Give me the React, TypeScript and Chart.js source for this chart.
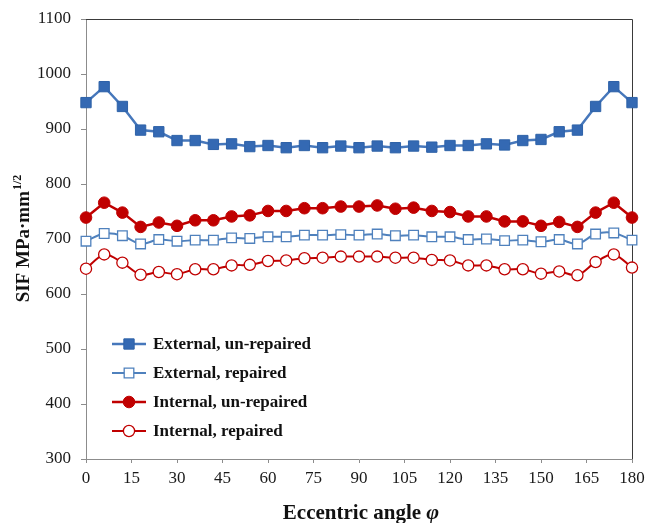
import React, { useEffect, useRef } from "react";
import { Chart, registerables } from "chart.js";

Chart.register(...registerables);

// Eccentric angle (degrees), sampled every 6°
const angles = [
  0, 6, 12, 18, 24, 30, 36, 42, 48, 54, 60, 66, 72, 78, 84, 90,
  96, 102, 108, 114, 120, 126, 132, 138, 144, 150, 156, 162, 168, 174, 180,
];

// SIF values, MPa·mm^1/2
const externalUnrepaired = [
  948, 977, 941, 898, 895, 879, 879, 872, 873, 868, 870, 866, 870, 866, 869, 866,
  869, 866, 869, 867, 870, 870, 873, 871, 879, 881, 895, 898, 941, 977, 948,
];
const externalRepaired = [
  696, 710, 706, 691, 699, 696, 698, 698, 702, 701, 704, 704, 707, 707, 708, 707,
  709, 706, 707, 704, 704, 699, 700, 697, 698, 695, 699, 691, 709, 711, 698,
];
const internalUnrepaired = [
  739, 766, 748, 722, 730, 724, 734, 734, 741, 743, 751, 751, 756, 756, 759, 759,
  761, 755, 757, 751, 749, 741, 741, 732, 732, 724, 731, 722, 748, 766, 739,
];
const internalRepaired = [
  646, 672, 657, 635, 640, 636, 645, 645, 652, 653, 660, 661, 665, 666, 668, 668,
  668, 666, 666, 662, 661, 652, 652, 645, 645, 637, 641, 634, 658, 672, 648,
];

const xTicks = [0, 15, 30, 45, 60, 75, 90, 105, 120, 135, 150, 165, 180];

const seriesLabels = [
  "External, un-repaired",
  "External, repaired",
  "Internal, un-repaired",
  "Internal, repaired",
];

const SERIF = "'Liberation Serif', 'Times New Roman', serif";
const BLUE_LINE = "#4677BB";
const BLUE_FILL = "#3469B3";
const BLUE_OPEN = "#4F81BD";
const RED = "#C00000";

type Style = {
  line: string;
  width: number;
  shape: "rect" | "circle";
  radius: number;
  fill: string;
  stroke: string;
  markerWidth: number;
  tension: number;
};

const styles: Style[] = [
  { line: BLUE_LINE, width: 2.5, shape: "rect", radius: 7.3, fill: BLUE_FILL, stroke: "#2E62A8", markerWidth: 1, tension: 0 },
  { line: BLUE_OPEN, width: 2, shape: "rect", radius: 6.8, fill: "#FFFFFF", stroke: BLUE_OPEN, markerWidth: 1.3, tension: 0.3 },
  { line: RED, width: 2.5, shape: "circle", radius: 5.8, fill: RED, stroke: RED, markerWidth: 1, tension: 0 },
  { line: RED, width: 2, shape: "circle", radius: 5.6, fill: "#FFFFFF", stroke: RED, markerWidth: 1.3, tension: 0.3 },
];

const seriesValues = [externalUnrepaired, externalRepaired, internalUnrepaired, internalRepaired];

function drawMarker(ctx: CanvasRenderingContext2D, s: Style, x: number, y: number) {
  ctx.save();
  ctx.fillStyle = s.fill;
  ctx.strokeStyle = s.stroke;
  ctx.lineWidth = s.markerWidth;
  ctx.beginPath();
  if (s.shape === "rect") {
    const h = s.radius * Math.SQRT1_2;
    ctx.rect(x - h, y - h, 2 * h, 2 * h);
  } else {
    ctx.arc(x, y, s.radius, 0, Math.PI * 2);
  }
  ctx.fill();
  ctx.stroke();
  ctx.restore();
}

// Frame, axis titles and the in-plot legend
const decorations = {
  id: "decorations",
  beforeDatasetsDraw(chart: Chart) {
    const ctx = chart.ctx;
    const a = chart.chartArea;
    ctx.save();
    // frame: dark top/right edges
    ctx.strokeStyle = "#3A3A3A";
    ctx.lineWidth = 1;
    ctx.beginPath();
    ctx.moveTo(a.left, a.top + 0.5);
    ctx.lineTo(a.right + 0.5, a.top + 0.5);
    ctx.lineTo(a.right + 0.5, a.bottom);
    ctx.stroke();
    ctx.restore();
  },
  afterDraw(chart: Chart) {
    const ctx = chart.ctx;
    const a = chart.chartArea;
    ctx.save();

    // x title
    ctx.fillStyle = "#111";
    ctx.textBaseline = "alphabetic";
    const fMain = `bold 21px ${SERIF}`;
    const fPhi = `italic bold 22px ${SERIF}`;
    ctx.font = fMain;
    const t1 = "Eccentric angle ";
    const w1 = ctx.measureText(t1).width;
    ctx.font = fPhi;
    const w2 = ctx.measureText("φ").width;
    const cx = (a.left + a.right) / 2 + 2;
    const x0 = cx - (w1 + w2) / 2;
    ctx.font = fMain;
    ctx.textAlign = "left";
    ctx.fillText(t1, x0, 519);
    ctx.font = fPhi;
    ctx.fillText("φ", x0 + w1, 519);

    // y title (rotated)
    ctx.save();
    ctx.translate(29, (a.top + a.bottom) / 2);
    ctx.rotate(-Math.PI / 2);
    const yMain = "SIF MPa·mm";
    const ySup = "1/2";
    ctx.font = `bold 19px ${SERIF}`;
    const wm = ctx.measureText(yMain).width;
    ctx.font = `bold 12px ${SERIF}`;
    const ws = ctx.measureText(ySup).width;
    const start = -(wm + ws) / 2;
    ctx.font = `bold 19px ${SERIF}`;
    ctx.fillText(yMain, start, 0);
    ctx.font = `bold 12px ${SERIF}`;
    ctx.fillText(ySup, start + wm + 1, -8);
    ctx.restore();

    // legend
    const rows = [344, 373, 402, 431];
    rows.forEach((ry, i) => {
      const s = styles[i];
      ctx.strokeStyle = s.line;
      ctx.lineWidth = s.width;
      ctx.beginPath();
      ctx.moveTo(112, ry);
      ctx.lineTo(146, ry);
      ctx.stroke();
      drawMarker(ctx, s, 129, ry);
      ctx.fillStyle = "#111";
      ctx.font = `bold 17px ${SERIF}`;
      ctx.textAlign = "left";
      ctx.textBaseline = "middle";
      ctx.fillText(seriesLabels[i], 153, ry + 1);
    });

    ctx.restore();
  },
};

export default function App() {
  const ref = useRef<HTMLCanvasElement | null>(null);

  useEffect(() => {
    if (!ref.current) return;
    const datasets = seriesValues.map((vals, i) => {
      const s = styles[i];
      return {
        label: seriesLabels[i],
        data: angles.map((x, k) => ({ x, y: vals[k] })),
        borderColor: s.line,
        borderWidth: s.width,
        tension: s.tension,
        pointStyle: s.shape,
        pointRadius: s.radius,
        pointBackgroundColor: s.fill,
        pointBorderColor: s.stroke,
        pointBorderWidth: s.markerWidth,
        fill: false,
        clip: false,
        order: 4 - i,
      };
    });

    const chart = new Chart(ref.current, {
      type: "line",
      data: { datasets },
      options: {
        responsive: false,
        animation: false,
        events: [],
        layout: { padding: { left: 0, top: 19, right: 14, bottom: 0 } },
        plugins: {
          legend: { display: false },
          tooltip: { enabled: false },
        },
        scales: {
          x: {
            type: "linear",
            min: 0,
            max: 180,
            afterBuildTicks: (scale: any) => {
              scale.ticks = xTicks.map((v) => ({ value: v }));
            },
            afterFit: (scale: any) => {
              scale.height = 64;
              scale.paddingLeft = 0;
              scale.paddingRight = 0;
            },
            ticks: {
              font: { family: SERIF, size: 17 },
              color: "#1A1A1A",
              padding: 5,
              maxRotation: 0,
              autoSkip: false,
              callback: (v: any) => String(v),
            },
            grid: {
              drawOnChartArea: false,
              drawTicks: true,
              tickLength: 4,
              color: "#8C8C8C",
            },
            border: { color: "#8C8C8C", width: 1 },
          },
          y: {
            min: 300,
            max: 1100,
            afterFit: (scale: any) => {
              scale.width = 86;
              scale.paddingTop = 0;
              scale.paddingBottom = 0;
            },
            ticks: {
              stepSize: 100,
              font: { family: SERIF, size: 17 },
              color: "#1A1A1A",
              padding: 10,
              callback: (v: any) => String(v),
            },
            grid: {
              drawOnChartArea: false,
              drawTicks: true,
              tickLength: 5,
              color: "#8C8C8C",
            },
            border: { color: "#8C8C8C", width: 1 },
          },
        },
      },
      plugins: [decorations],
    } as any);

    return () => chart.destroy();
  }, []);

  return (
    <div style={{ position: "fixed", left: 0, top: 0, width: 646, height: 523, background: "#fff" }}>
      <canvas ref={ref} width={646} height={523} style={{ display: "block" }} />
    </div>
  );
}
